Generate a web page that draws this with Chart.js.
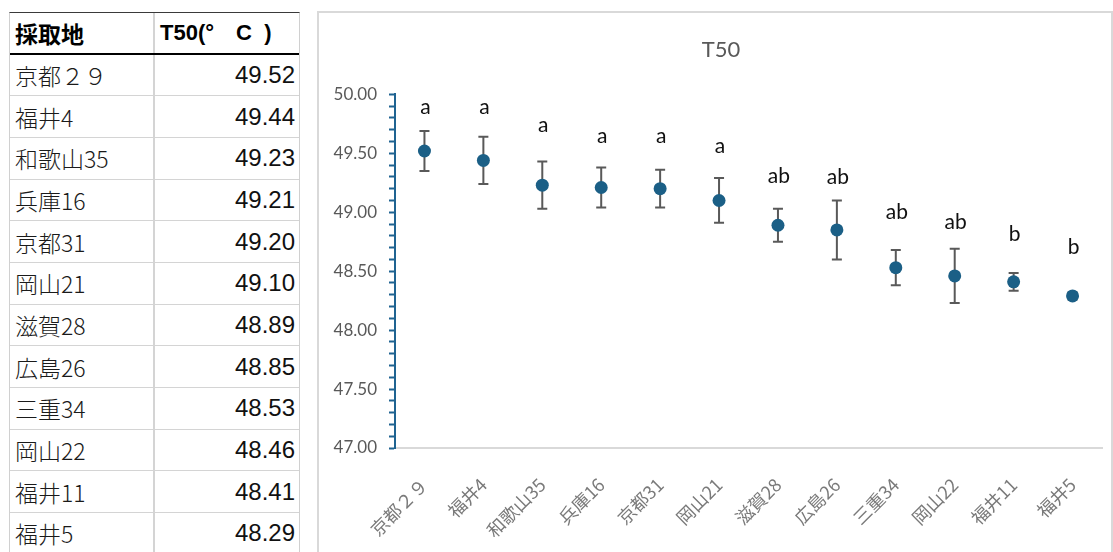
<!DOCTYPE html>
<html>
<head>
<meta charset="utf-8">
<script src="https://cdn.jsdelivr.net/npm/chart.js@4.4.1/dist/chart.umd.min.js"></script>
<style>
html,body{margin:0;padding:0;background:#fff;width:1113px;height:552px;overflow:hidden;}
#tbl{position:absolute;left:9px;top:12px;width:291px;border-top:1px solid #3a3a3a;border-left:1px solid #d0d0d0;border-right:1px solid #d0d0d0;box-sizing:border-box;}
.row{display:flex;height:41.67px;box-sizing:border-box;border-bottom:1px solid #d4d4d4;}
.row.head{border-bottom:2px solid #000;}
.c1{width:145px;flex:none;box-sizing:border-box;border-right:2px solid #d4d4d4;padding-left:5px;display:flex;align-items:center;font-family:"Noto Sans CJK JP";font-weight:300;font-size:23px;color:#1a1a1a;white-space:nowrap;}
.c2{flex:1;padding-right:4px;display:flex;align-items:center;justify-content:flex-end;font-family:"Liberation Sans";font-size:24px;color:#111;white-space:pre;}
.head .c1{font-weight:bold;font-size:23px;color:#000;}
.head .c2{font-weight:bold;font-size:22px;justify-content:flex-start;padding-left:5px;color:#000;}
#chartBox{position:absolute;left:317px;top:11px;width:796px;height:541px;border:2px solid #d9d9d9;border-bottom:none;box-sizing:border-box;overflow:hidden;}
#c{display:block;}
</style>
</head>
<body>
<div id="tbl"></div>
<div id="chartBox"><canvas id="c" width="804" height="539"></canvas></div>
<script>
// ---- data ----
const sites = ["京都２９","福井4","和歌山35","兵庫16","京都31","岡山21","滋賀28","広島26","三重34","岡山22","福井11","福井5"];
const t50 = [49.52,49.44,49.23,49.21,49.20,49.10,48.89,48.85,48.53,48.46,48.41,48.29];
const errors = [0.17,0.20,0.20,0.17,0.16,0.19,0.14,0.25,0.15,0.23,0.075,0.03];
const letters = ["a","a","a","a","a","a","ab","ab","ab","ab","b","b"];
const letterLevels = [49.83,49.83,49.68,49.59,49.59,49.50,49.25,49.24,48.94,48.86,48.76,48.65];
const headers = ["採取地","T50(°　C\u00a0\u00a0)"];
const yTicksMin = 47, yTicksMax = 50;

// ---- table ----
const tbl = document.getElementById('tbl');
function addRow(a, b, head){
  const r = document.createElement('div');
  r.className = 'row' + (head ? ' head' : '');
  const d1 = document.createElement('div'); d1.className='c1'; d1.textContent=a;
  const d2 = document.createElement('div'); d2.className='c2'; d2.textContent=b;
  r.appendChild(d1); r.appendChild(d2); tbl.appendChild(r);
}
addRow(headers[0], headers[1], true);
sites.forEach((s,i)=>addRow(s, t50[i].toFixed(2), false));

// ---- chart ----
const errorBars = {
  id:'errorBars',
  beforeDatasetsDraw(chart){
    const {ctx, scales:{x,y}} = chart;
    ctx.save();
    ctx.strokeStyle = '#595959';
    ctx.lineWidth = 2;
    t50.forEach((v,i)=>{
      const px = x.getPixelForValue(i);
      const yt = y.getPixelForValue(v + errors[i]);
      const yb = y.getPixelForValue(v - errors[i]);
      ctx.beginPath();
      ctx.moveTo(px, yt); ctx.lineTo(px, yb);
      ctx.moveTo(px-5, yt); ctx.lineTo(px+5, yt);
      ctx.moveTo(px-5, yb); ctx.lineTo(px+5, yb);
      ctx.stroke();
    });
    ctx.restore();
  }
};
const letterLabels = {
  id:'letterLabels',
  afterDatasetsDraw(chart){
    const {ctx, scales:{x,y}} = chart;
    ctx.save();
    ctx.fillStyle = '#111';
    ctx.font = '21px Lato';
    ctx.textAlign = 'center';
    ctx.textBaseline = 'alphabetic';
    letters.forEach((t,i)=>{
      ctx.fillText(t, x.getPixelForValue(i) + 1, y.getPixelForValue(letterLevels[i]));
    });
    ctx.restore();
  }
};

new Chart(document.getElementById('c'), {
  type:'line',
  data:{
    labels: sites,
    datasets:[{
      data: t50,
      showLine:false,
      pointRadius:6.5,
      pointHoverRadius:6.5,
      pointBackgroundColor:'#1B5F86',
      pointBorderColor:'#1B5F86',
      pointBorderWidth:0
    }]
  },
  options:{
    responsive:false,
    animation:false,
    devicePixelRatio:1,
    events:[],
    layout:{padding:{left:0,right:0,top:0,bottom:0}},
    plugins:{
      legend:{display:false},
      tooltip:{enabled:false},
      title:{display:true,text:'T50',color:'#595959',font:{family:'Lato',size:22,weight:'normal'},padding:{top:24,bottom:31}}
    },
    scales:{
      x:{
        offset:true,
        grid:{display:false},
        border:{display:true,color:'#d9d9d9',width:2},
        ticks:{autoSkip:false,minRotation:45,maxRotation:45,padding:18,color:'#7a7a7a',font:{family:'Noto Sans CJK JP',size:18}},
        afterFit(s){ s.height = 104; }
      },
      y:{
        min:yTicksMin,max:yTicksMax,
        grid:{display:true,drawOnChartArea:false,drawTicks:true,tickLength:6,tickColor:'#1F6391',tickWidth:2},
        border:{display:true,color:'#1F6391',width:2},
        ticks:{stepSize:0.1,autoSkip:false,maxTicksLimit:100,padding:12,color:'#595959',font:{family:'Lato',size:17},
          callback(v){ const h=v*2; return Math.abs(h-Math.round(h))<1e-6 ? Number(v).toFixed(2) : ''; }},
        afterFit(s){ s.width = 76; }
      },
      yPad:{
        position:'right',
        display:true,
        grid:{display:false},
        border:{display:false},
        ticks:{display:false},
        afterFit(s){ s.width = 21; }
      }
    }
  },
  plugins:[errorBars, letterLabels]
});
</script>
</body>
</html>
